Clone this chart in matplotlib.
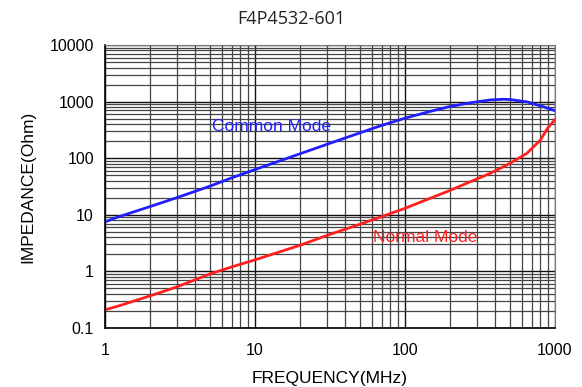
import numpy as np
import matplotlib.pyplot as plt
from matplotlib.ticker import LogLocator, FixedLocator, FixedFormatter, NullFormatter

# impedance curves
freq_mhz = [1, 1.2, 2, 3, 5, 7, 10, 20, 30, 50, 70, 100, 150, 200, 270, 370,
            450, 500, 650, 800, 900, 1000]
common_mode = [7.5, 9, 14, 20, 32, 45, 63, 120, 175, 280, 380, 510, 680, 820,
               950, 1070, 1100, 1090, 990, 840, 760, 690]
normal_mode = [0.21, 0.24, 0.37, 0.53, 0.9, 1.2, 1.6, 2.9, 4.3, 6.8, 9.3, 13,
               20, 27, 38, 54, 70, 81, 122, 210, 350, 480]

xticks = [1, 10, 100, 1000]
xlabels = ["1", "10", "100", "1000"]
yticks = [0.1, 1, 10, 100, 1000, 10000]
ylabels = ["0.1", "1", "10", "100", "1000", "10000"]

fig = plt.figure(figsize=(5.82, 3.87), dpi=100)
ax = fig.add_axes([105 / 582, 1 - 328 / 387, 450 / 582, 283 / 387])

ax.set_xscale("log")
ax.set_yscale("log")
ax.set_xlim(1, 1000)
ax.set_ylim(0.1, 10000)

ax.plot(freq_mhz, common_mode, color="#1f1fff", lw=2)
ax.plot(freq_mhz, normal_mode, color="#ff1f1f", lw=2)

ax.text(5.2, 370, "Common Mode", color="#1f1fff", fontsize=12.5,
        family="Liberation Sans", va="center")
ax.text(61, 3.9, "Normal Mode", color="#ff1f1f", fontsize=12.5,
        family="Liberation Sans", va="center")

ax.xaxis.set_major_locator(FixedLocator(xticks))
ax.xaxis.set_major_formatter(FixedFormatter(xlabels))
ax.yaxis.set_major_locator(FixedLocator(yticks))
ax.yaxis.set_major_formatter(FixedFormatter(ylabels))
ax.xaxis.set_minor_locator(LogLocator(base=10, subs=np.arange(2, 10), numticks=20))
ax.yaxis.set_minor_locator(LogLocator(base=10, subs=np.arange(2, 10), numticks=20))
ax.xaxis.set_minor_formatter(NullFormatter())
ax.yaxis.set_minor_formatter(NullFormatter())

ax.grid(True, which="major", color="#111111", lw=1.0)
ax.grid(True, which="minor", color="#444444", lw=0.9)
ax.set_axisbelow(True)
ax.tick_params(which="both", length=0, labelsize=11.5)
ax.tick_params(axis="x", pad=11)
ax.tick_params(axis="y", pad=8)
for lab in ax.get_xticklabels() + ax.get_yticklabels():
    lab.set_family("Liberation Sans")

for side in ["top", "right"]:
    ax.spines[side].set_color("#777777")
for side in ["left", "bottom"]:
    ax.spines[side].set_color("black")
    ax.spines[side].set_linewidth(1.2)

ax.set_xlabel("FREQUENCY(MHz)", fontsize=12.5, family="Liberation Sans", labelpad=9)
ax.set_ylabel("IMPEDANCE(Ohm)", fontsize=12.5, family="Liberation Sans", labelpad=10)
fig.text(0.5, 1 - 19 / 387, "F4P4532-601", ha="center", va="center",
         fontsize=13, family="Open Sans", color="#222222")

fig.savefig("out.png", dpi=100)
